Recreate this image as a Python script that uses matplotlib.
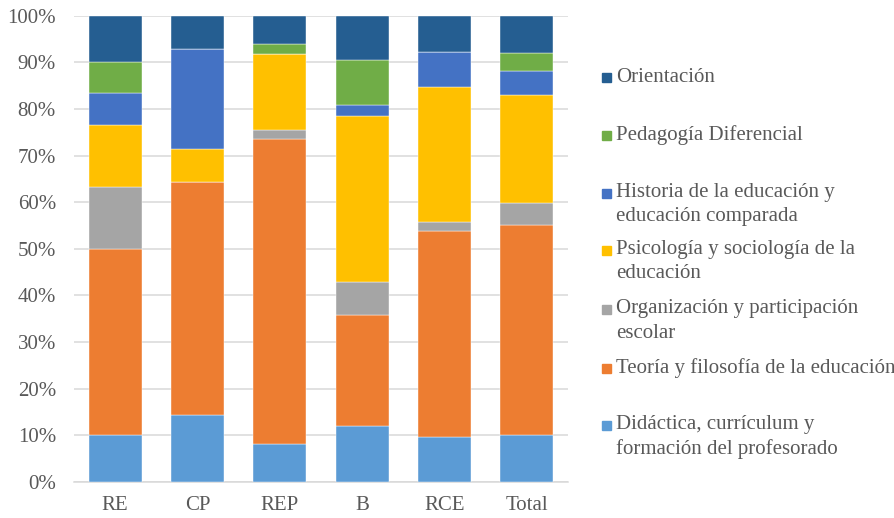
import matplotlib.pyplot as plt
from matplotlib.patches import Rectangle
import numpy as np

# counts (100% stacked), bottom to top
categories = ['RE', 'CP', 'REP', 'B', 'RCE', 'Total']
didactica = [3, 2, 4, 5, 5, 19]
teoria = [12, 7, 32, 10, 23, 84]
organizacion = [4, 0, 1, 3, 1, 9]
psicologia = [4, 1, 8, 15, 15, 43]
historia = [2, 3, 0, 1, 4, 10]
pedagogia = [2, 0, 1, 4, 0, 7]
orientacion = [3, 1, 3, 4, 4, 15]

series_names = [
    'Didáctica, currículum y\nformación del profesorado',
    'Teoría y filosofía de la educación',
    'Organización y participación\nescolar',
    'Psicología y sociología de la\neducación',
    'Historia de la educación y\neducación comparada',
    'Pedagogía Diferencial',
    'Orientación',
]
series_vals = [didactica, teoria, organizacion, psicologia, historia, pedagogia, orientacion]
colors = ['#5B9BD5', '#ED7D31', '#A5A5A5', '#FFC000', '#4472C4', '#70AD47', '#255E91']

TEXT = '#595959'
FONT = 'Liberation Serif'
plt.rcParams['font.family'] = FONT

W, H = 894, 518
fig = plt.figure(figsize=(W / 100, H / 100), dpi=100)
ax = fig.add_axes([74 / W, 1 - 482 / H, 494 / W, (482 - 15.7) / H])

data = np.array(series_vals, dtype=float)
pct = data / data.sum(axis=0) * 100
x = np.arange(len(categories))
bottom = np.zeros(len(categories))
for vals, c in zip(pct, colors):
    ax.bar(x, vals, bottom=bottom, width=0.645, color=c, edgecolor='white', linewidth=0.3, zorder=3)
    bottom += vals

ax.set_xlim(-0.5, len(categories) - 0.5)
ax.set_ylim(0, 100)
ax.set_yticks(np.arange(0, 101, 10))
ax.set_yticklabels([f'{v}%' for v in range(0, 101, 10)])
ax.set_xticks(x)
ax.set_xticklabels(categories)
ax.yaxis.grid(True, color='#D9D9D9', linewidth=1.1, zorder=0)
ax.set_axisbelow(True)
for s in ['left', 'right', 'top']:
    ax.spines[s].set_visible(False)
ax.spines['bottom'].set_color('#D9D9D9')
ax.spines['bottom'].set_linewidth(1.1)
ax.tick_params(axis='both', length=0, labelsize=15, labelcolor=TEXT)
ax.tick_params(axis='y', pad=13)
ax.tick_params(axis='x', pad=10)

# legend drawn by hand so the marker sits on the first line like Excel
first_line_y = [425, 368, 309, 250, 193, 135, 77]
for name, c, yy in zip(series_names, colors, first_line_y):
    fig.patches.append(Rectangle((601.7 / W, 1 - (yy + 4.5) / H), 9.3 / W, 9 / H,
                                 transform=fig.transFigure, color=c, figure=fig))
    for i, line in enumerate(name.split('\n')):
        fig.text(615.7 / W, 1 - (yy + i * 24) / H, line, ha='left', va='center',
                 fontsize=15, color=TEXT)

fig.savefig('out.png', dpi=100)
